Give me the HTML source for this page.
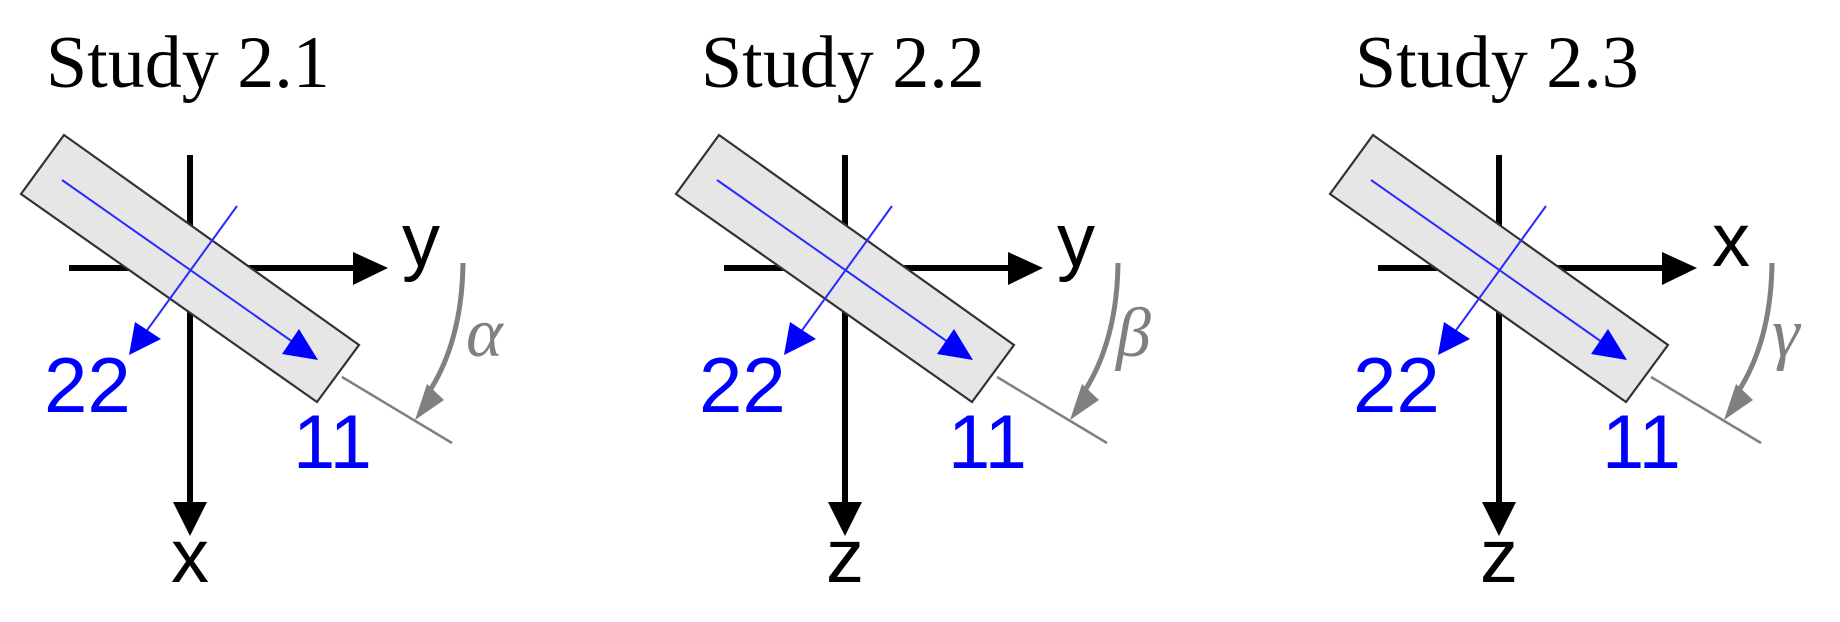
<!DOCTYPE html>
<html><head><meta charset="utf-8"><style>html,body{margin:0;padding:0;background:#fff;width:1840px;height:622px;overflow:hidden}</style></head>
<body>
<svg width="1840" height="622" viewBox="0 0 1840 622" xmlns="http://www.w3.org/2000/svg">
<defs>
<g id="p">
  <line x1="190" y1="155" x2="190" y2="505" stroke="#000" stroke-width="6"/>
  <polygon points="173,502 207,502 190,536" fill="#000"/>
  <line x1="69" y1="268" x2="356" y2="268" stroke="#000" stroke-width="6"/>
  <polygon points="353,252 353,285 388,268" fill="#000"/>
  <polygon points="64,135 21,194 317,402 359,345" fill="#e6e6e6" stroke="#333" stroke-width="2.2"/>
  <line x1="62" y1="180" x2="300" y2="347" stroke="#2a2aff" stroke-width="2"/>
  <polygon points="282,354 318,360 299,329" fill="#0000ff"/>
  <line x1="237" y1="206" x2="140" y2="340" stroke="#2a2aff" stroke-width="2"/>
  <polygon points="129,355 161,339 135,322" fill="#0000ff"/>
  <line x1="342" y1="377" x2="452" y2="443" stroke="#808080" stroke-width="2.5"/>
  <path d="M463,263 Q462,345 425,398" fill="none" stroke="#808080" stroke-width="5"/>
  <polygon points="415,420 444,400 427,384" fill="#808080"/>
  <text x="44" y="412" font-family="Liberation Sans, sans-serif" font-size="78" fill="#0000ff">22</text>
  <text x="293" y="468" font-family="Liberation Sans, sans-serif" font-size="76" fill="#0000ff">11</text>
</g>
</defs>
<use href="#p"/>
<use href="#p" x="655"/>
<use href="#p" x="1309"/>
<g font-family="Liberation Serif, serif" font-size="74" fill="#000">
  <text x="46" y="87">Study 2.1</text>
  <text x="701" y="87">Study 2.2</text>
  <text x="1355" y="87">Study 2.3</text>
</g>
<g font-family="Liberation Sans, sans-serif" font-size="76" fill="#000">
  <text x="402" y="266">y</text>
  <text x="190" y="582" text-anchor="middle">x</text>
  <text x="1057" y="266">y</text>
  <text x="845" y="582" text-anchor="middle">z</text>
  <text x="1712" y="266">x</text>
  <text x="1499" y="582" text-anchor="middle">z</text>
</g>
<g font-family="Liberation Serif, serif" font-style="italic" font-size="70" fill="#808080">
  <text x="466" y="356">α</text>
  <text x="1116" y="356">β</text>
  <text x="1772" y="356">γ</text>
</g>
</svg>
</body></html>
